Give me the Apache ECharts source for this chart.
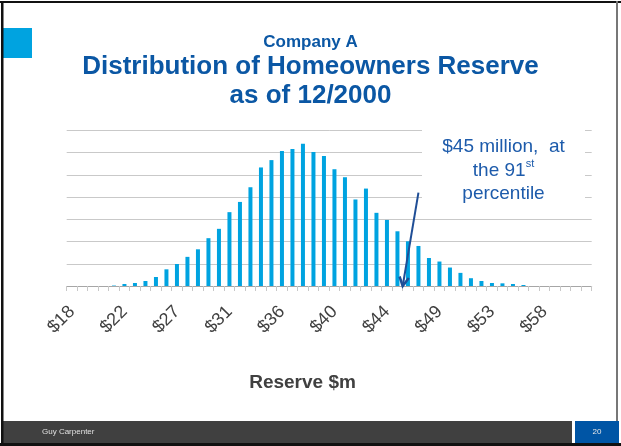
<!DOCTYPE html>
<html><head><meta charset="utf-8">
<script src="https://cdn.jsdelivr.net/npm/echarts@6/dist/echarts.min.js"></script>
<style>html,body{margin:0;padding:0;background:#fff;overflow:hidden}#c{width:621px;height:446px}</style>
</head><body><div id="c"></div>
<script>
// ---- data ----
const categories = ["$18","$19","$20","$20","$21","$22","$23","$24","$25","$26",
  "$27","$28","$28","$29","$30","$31","$32","$33","$34","$35",
  "$36","$36","$37","$38","$39","$40","$41","$42","$43","$44",
  "$44","$45","$46","$47","$48","$49","$50","$51","$52","$52",
  "$53","$54","$55","$56","$57","$58","$59","$60","$60","$61"];
const frequency = [0,0,0,0,0.2,0.9,1.35,2.25,4.05,7.5,
  9.9,13.1,16.5,21.5,25.7,33.2,37.8,44.4,53.3,56.6,
  60.7,61.6,64.0,60.2,58.4,52.5,48.9,38.9,43.8,32.9,
  29.7,24.6,20.1,18.0,12.6,11.0,8.3,5.9,3.5,2.25,
  1.35,1.2,0.9,0.45,0,0,0,0,0,0];
const yAxisMax = 70;
const yAxisStep = 10;
const titleLine1 = "Company A";
const titleLine2 = "Distribution of Homeowners Reserve\nas of 12/2000";
const axisTitle = "Reserve $m";
// annotation: arrow from category 33 (value 42) down to the boundary between categories 31 and 32
const arrowFrom = [33, 42];
const arrowToCats = [31, 32];
const footerText = "Guy Carpenter";
const pageNumber = "20";

const FONT = "'Liberation Sans', Arial, sans-serif";
const chart = echarts.init(document.getElementById('c'), null, {renderer: 'canvas'});

const staticGraphics = [
  {id:'sq', type:'rect', shape:{x:2, y:28, width:30, height:30}, style:{fill:'#00a3e0'}, z:10},
  {id:'footer', type:'rect', shape:{x:3, y:421, width:569, height:22}, style:{fill:'#404040'}, z:10},
  {id:'pgbox', type:'rect', shape:{x:575, y:421, width:44, height:22}, style:{fill:'#0055a5'}, z:10},
  {id:'ftxt', type:'text', x:42, y:432, style:{text:footerText, font:"8px " + FONT, fill:'#e0e0e0', verticalAlign:'middle'}, z:11},
  {id:'pgtxt', type:'text', x:597, y:432, style:{text:pageNumber, font:"8px " + FONT, fill:'#e8e8e8', align:'center', verticalAlign:'middle'}, z:11},
  {id:'bTop', type:'rect', shape:{x:0, y:1, width:621, height:2}, style:{fill:'#111'}, z:12},
  {id:'bLeft', type:'rect', shape:{x:1, y:1, width:2.5, height:445}, style:{fill:'#111'}, z:12},
  {id:'bBot', type:'rect', shape:{x:0, y:443, width:621, height:3}, style:{fill:'#111'}, z:12},
  {id:'bRight', type:'rect', shape:{x:616, y:1, width:2, height:420}, style:{fill:'#777'}, z:12},
  {id:'axTitle', type:'text', x:302.5, y:383, style:{text:axisTitle, font:"bold 19px " + FONT, fill:'#404040', align:'center', verticalAlign:'middle'}, z:11},
  {id:'noteBg', type:'rect', shape:{x:422, y:122, width:163, height:84}, style:{fill:'#fff'}, z:20},
  {id:'note', type:'text', x:503.5, y:170.5, z:21, style:{
     text:"$45 million,  at\nthe 91{sup|st}\npercentile",
     font:"19px " + FONT, fill:'#1d5bab', align:'center', verticalAlign:'middle', lineHeight:23.3,
     rich:{sup:{fontSize:11, fontFamily:FONT, fill:'#1d5bab', color:'#1d5bab', verticalAlign:'top', lineHeight:23.3, padding:[0,0,8,0]}}
  }}
];

chart.setOption({
  animation:false,
  backgroundColor:'#ffffff',
  title:[
    {text:titleLine1, left:'center', top:29, textStyle:{fontFamily:FONT, fontSize:17, fontWeight:'bold', color:'#0b57a4'}},
    {text:titleLine2, left:'center', top:48, textStyle:{fontFamily:FONT, fontSize:26, fontWeight:'bold', color:'#0b57a4', lineHeight:28.4}}
  ],
  grid:{left:66.7, right:29.3, top:130.3, bottom:160, containLabel:false, outerBoundsMode:'none'},
  xAxis:{
    type:'category', data:categories, boundaryGap:true,
    axisLine:{show:true, lineStyle:{color:'#a6a6a6', width:1}},
    axisTick:{show:true, interval:0, length:5, lineStyle:{color:'#c8c8c8'}},
    axisLabel:{interval:4, rotate:45, fontSize:18, color:'#404040', margin:23, fontFamily:FONT},
    splitLine:{show:false}
  },
  yAxis:{
    type:'value', min:0, max:yAxisMax, interval:yAxisStep,
    axisLabel:{show:false}, axisLine:{show:false}, axisTick:{show:false},
    splitLine:{show:true, lineStyle:{color:'#c9c9c9', width:1}}
  },
  series:[{
    type:'bar', data:frequency, barWidth:4,
    itemStyle:{color:'#00a3e0'}
  }],
  graphic:{elements:staticGraphics}
});

// arrow computed through the chart's own scales
const p0 = chart.convertToPixel({gridIndex:0}, arrowFrom);
const pa = chart.convertToPixel({gridIndex:0}, [arrowToCats[0], 0]);
const pb = chart.convertToPixel({gridIndex:0}, [arrowToCats[1], 0]);
const tip = [(pa[0] + pb[0]) / 2, pa[1]];
const dx = tip[0] - p0[0], dy = tip[1] - p0[1];
const len = Math.sqrt(dx*dx + dy*dy);
const ux = dx/len, uy = dy/len;
const headLen = 10, ang = 28 * Math.PI / 180;
function rot(x, y, a){ return [x*Math.cos(a) - y*Math.sin(a), x*Math.sin(a) + y*Math.cos(a)]; }
const h1 = rot(-ux, -uy, ang), h2 = rot(-ux, -uy, -ang);
const arrowColor = '#1f4e96';
chart.setOption({
  graphic:{elements: staticGraphics.concat([
    {id:'arrowLine', type:'line', shape:{x1:p0[0], y1:p0[1], x2:tip[0], y2:tip[1]}, style:{stroke:arrowColor, lineWidth:2}, z:30},
    {id:'arrowHead', type:'polyline', shape:{points:[[tip[0]+h1[0]*headLen, tip[1]+h1[1]*headLen], tip, [tip[0]+h2[0]*headLen, tip[1]+h2[1]*headLen]]}, style:{stroke:arrowColor, lineWidth:2.5, fill:null}, z:30}
  ])}
});
</script>
</body></html>
